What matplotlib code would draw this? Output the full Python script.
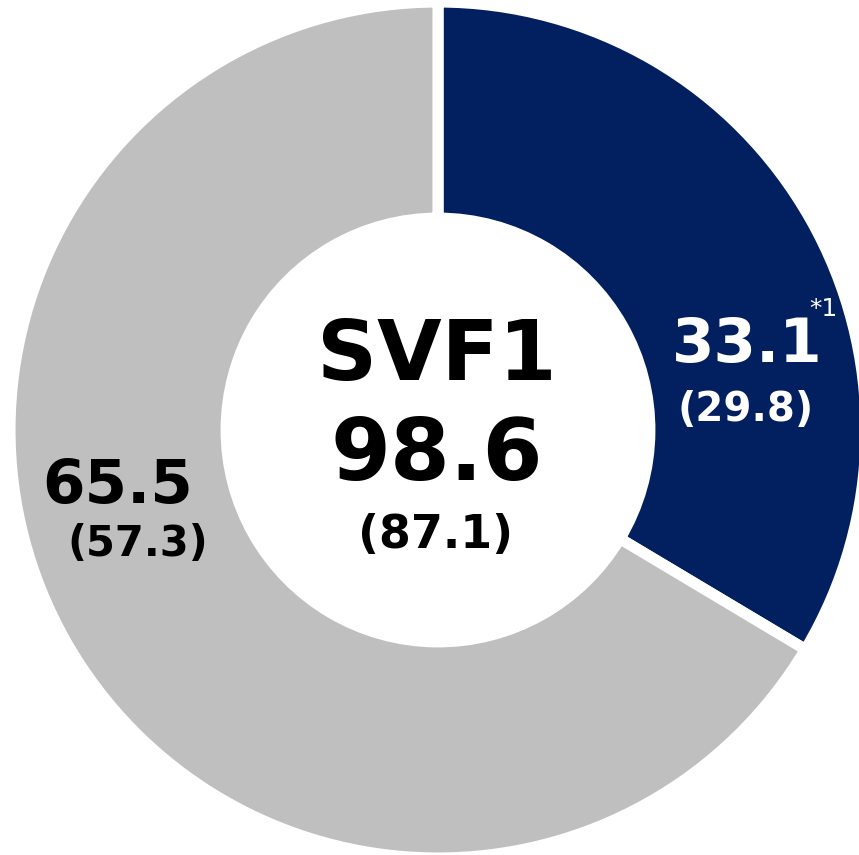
import matplotlib.pyplot as plt

# values (current, previous)
segment_labels = ["SVF1 A", "SVF1 B"]
values = [33.1, 65.5]
prev_values = [29.8, 57.3]
total = 98.6
prev_total = 87.1
colors = ["#02205F", "#BFBFBF"]

W, H = 859, 855
fig = plt.figure(figsize=(W / 100, H / 100), dpi=100)
ax = fig.add_axes([0, 0, 1, 1])

cx, cy, r = 438, H - 430, 428
ax.pie(
    values,
    colors=colors,
    startangle=90,
    counterclock=False,
    center=(cx, cy),
    radius=r,
    frame=True,
    wedgeprops=dict(width=r * 0.505, edgecolor="white", linewidth=8),
)
ax.set_xlim(0, W)
ax.set_ylim(0, H)
ax.set_aspect("equal")
ax.axis("off")

font = "DejaVu Sans"
ax.text(437, H - 357, "SVF1", ha="center", va="center", fontsize=60,
        fontweight="bold", family=font, color="black")
ax.text(437, H - 457, f"{total}", ha="center", va="center", fontsize=62,
        fontweight="bold", family=font, color="black")
ax.text(436, H - 535, f"({prev_total})", ha="center", va="center", fontsize=33,
        fontweight="bold", family=font, color="black")

ax.text(747, H - 346, f"{values[0]}", ha="center", va="center", fontsize=44,
        fontweight="bold", family=font, color="white")
ax.text(746, H - 410, f"({prev_values[0]})", ha="center", va="center", fontsize=29,
        fontweight="bold", family=font, color="white")
ax.text(823, H - 309, "*1", ha="center", va="center", fontsize=18,
        family=font, color="white")

ax.text(118, H - 486, f"{values[1]}", ha="center", va="center", fontsize=44,
        fontweight="bold", family=font, color="black")
ax.text(138, H - 544, f"({prev_values[1]})", ha="center", va="center", fontsize=30,
        fontweight="bold", family=font, color="black")

fig.savefig("out.png", dpi=100, facecolor="white")
